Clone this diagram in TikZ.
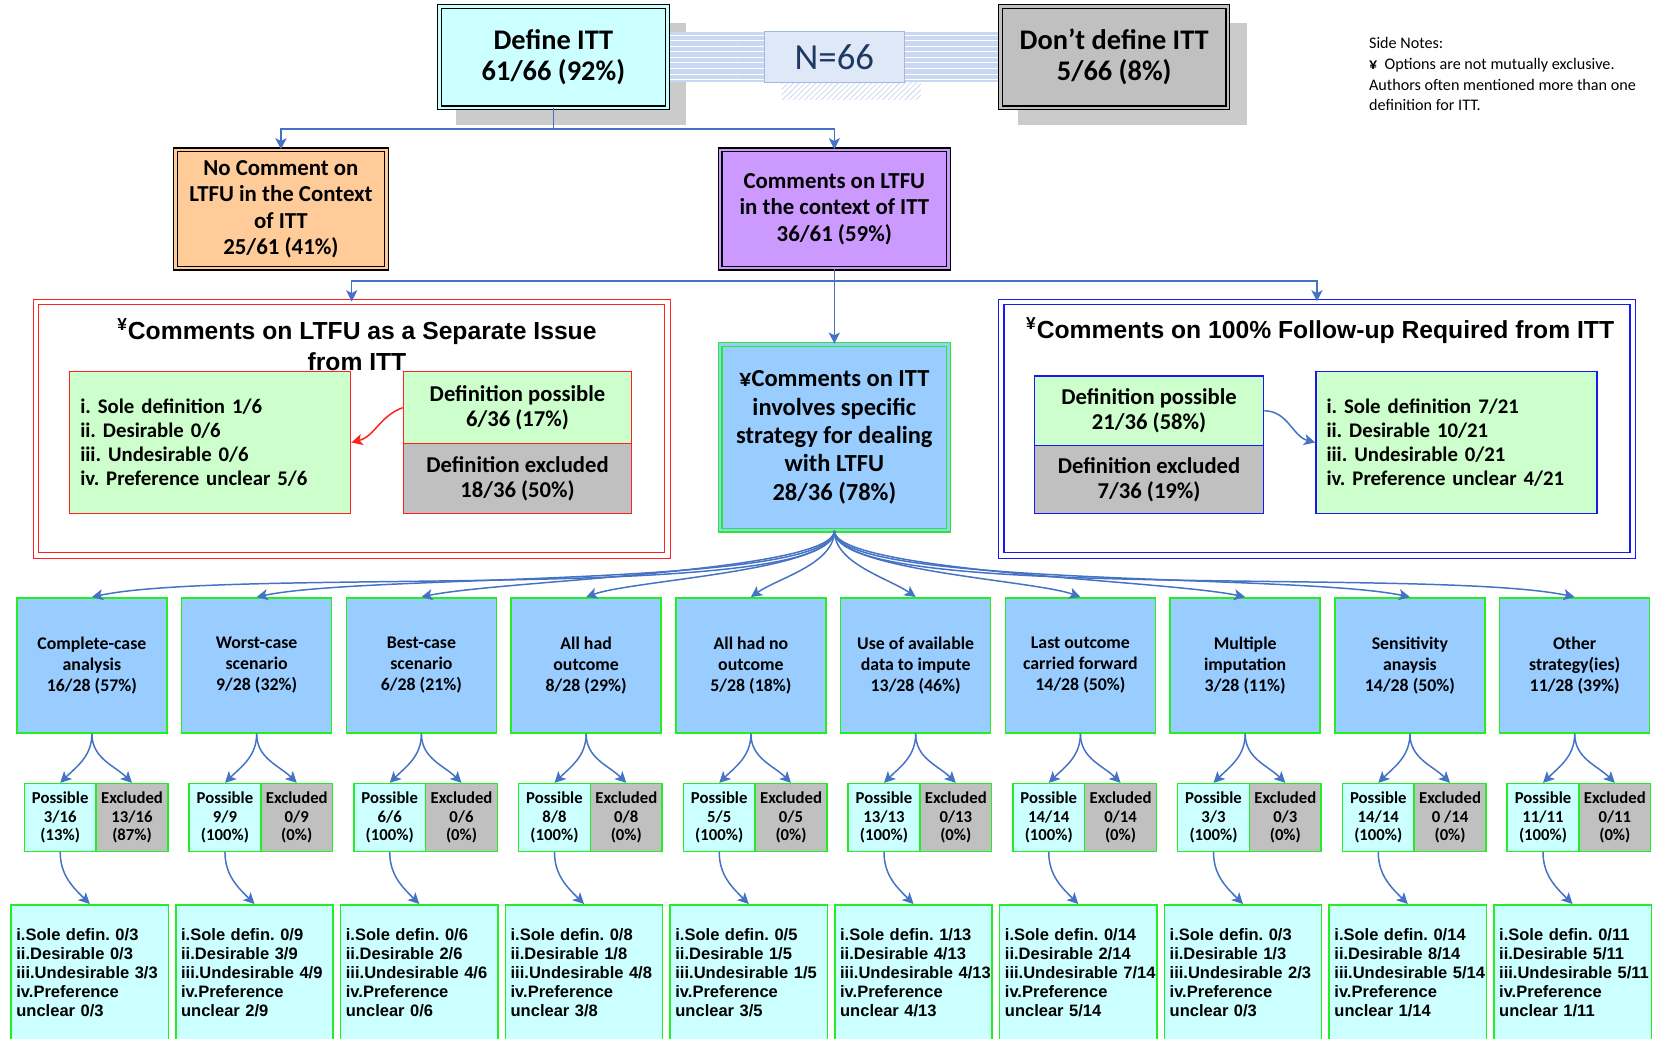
\documentclass[tikz,border=0pt]{standalone}
\usepackage{fontspec}
\setmainfont{Carlito}
\newfontfamily\arialfont{Liberation Sans}
\usetikzlibrary{arrows.meta,patterns}
\frenchspacing

\newlength\pxu
\setlength\pxu{0.2mm}

\definecolor{cyanfill}{HTML}{CCFFFF}
\definecolor{grayfill}{HTML}{C0C0C0}
\definecolor{orangefill}{HTML}{FFCC99}
\definecolor{purplefill}{HTML}{CC99FF}
\definecolor{greenfill}{HTML}{CCFFCC}
\definecolor{bluefill}{HTML}{99CCFF}
\definecolor{limeline}{HTML}{22EE22}
\definecolor{redline}{HTML}{FF2020}
\definecolor{blueline}{HTML}{1A1AF0}
\definecolor{arrowblue}{HTML}{4472C4}
\definecolor{shadowgray}{HTML}{CBCBCB}
\definecolor{bandblue}{HTML}{C9D7F0}
\definecolor{nfill}{HTML}{DEE8F6}
\definecolor{nline}{HTML}{9DB9E4}
\definecolor{ntext}{HTML}{203864}

\tikzset{
  box/.style={align=center, inner sep=1pt},
  topbox/.style={box, draw=black, line width=0.7pt, double distance=1.3pt,
    minimum width=216\pxu, minimum height=96\pxu,
    font=\fontsize{15.3}{17}\selectfont\bfseries},
  midbox/.style={box, draw=black, line width=0.7pt, double distance=1.3pt,
    minimum width=216\pxu, minimum height=112\pxu,
    font=\fontsize{12.3}{14.2}\selectfont\bfseries},
  nbox/.style={box, fill=nfill, draw=nline,
    minimum width=132\pxu, minimum height=48\pxu, text=ntext,
    font=\fontsize{19.8}{22}\selectfont},
  note/.style={align=left, inner sep=0pt, font=\fontsize{8.7}{11.2}\selectfont},
  frame/.style={line width=0.7pt, double=white, double distance=2.2pt,
    minimum width=598\pxu, minimum height=240\pxu},
  frametitle/.style={box, font=\arialfont\fontsize{13.3}{16.4}\selectfont\bfseries},
  defbox/.style={box, line width=0.8pt, minimum width=216\pxu, minimum height=67\pxu,
    font=\fontsize{12.2}{13.6}\selectfont\bfseries},
  listbox/.style={align=left, line width=0.8pt, fill=greenfill, text width=246\pxu,
    inner xsep=10\pxu, minimum height=134\pxu,
    font=\fontsize{11.2}{12.9}\selectfont\bfseries},
  stratbox/.style={box, draw=limeline, fill=bluefill, line width=0.8pt,
    minimum width=142\pxu, minimum height=128\pxu,
    font=\fontsize{9.6}{11.3}\selectfont\bfseries},
  possbox/.style={box, draw=limeline, fill=cyanfill, line width=0.8pt,
    minimum width=68\pxu, minimum height=64\pxu,
    font=\fontsize{9}{10.2}\selectfont\bfseries},
  exclbox/.style={possbox, fill=grayfill},
  sublist/.style={align=left, draw=limeline, fill=cyanfill, line width=0.8pt,
    anchor=north, text width=139\pxu, inner xsep=5\pxu, minimum height=128\pxu,
    font=\arialfont\fontsize{8.9}{10.2}\selectfont\bfseries},
  conn/.style={draw=arrowblue, line width=0.8pt},
  arr/.style={conn, -{Stealth[length=6pt, width=6pt, inset=1.5pt]}},
  fanl/.style={arr, out=-90, in=12, out looseness=0.25, in looseness=0.5},
  fanr/.style={arr, out=-90, in=168, out looseness=0.25, in looseness=0.5},
  downl/.style={arr, out=-90, in=45},
  downr/.style={arr, out=-90, in=135}
}

\begin{document}
\begin{tikzpicture}[x=0.2mm, y=0.2mm]
  \useasboundingbox (0,0) rectangle (1568,-983);

  % shadows and band behind the top row
  \fill[shadowgray] (432,-22) rectangle (650,-118);
  \fill[shadowgray] (964,-22) rectangle (1181,-118);
  \fill[bandblue] (632,-30) rectangle (948,-78);
  \fill[pattern=horizontal lines, pattern color=white] (632,-30) rectangle (948,-78);
  \fill[pattern=north east lines, pattern color=bandblue] (740,-78) rectangle (872,-94);

  \node[topbox, fill=cyanfill, double=cyanfill] (def) at (524,-54) {Define ITT\\61/66 (92\%)};
  \node[topbox, fill=grayfill, double=grayfill, minimum width=215\pxu] (nodef) at (1055,-54) {Don’t define ITT\\5/66 (8\%)};
  \node[nbox] (n66) at (790,-54) {N=66};

  \node[note, anchor=north west] (notes) at (1296,-35) {Side Notes:\\
    \textbf{¥}\ \ Options are not mutually exclusive.\\
    Authors often mentioned more than one\\
    definition for ITT.};

  % second level
  \node[midbox, fill=orangefill, double=orangefill, minimum width=200\pxu] (nocom) at (266,-198) {No Comment on\\LTFU in the Context\\of ITT\\25/61 (41\%)};
  \node[midbox, fill=purplefill, double=purplefill] (com) at (790,-198) {Comments on LTFU\\in the context of ITT\\36/61 (59\%)};

  \coordinate (j1) at (524,-122);
  \draw[conn] (def.south) -- (j1);
  \draw[arr] (j1) -| (nocom.north);
  \draw[arr] (j1) -| (com.north);

  % third level
  \node[frame, draw=redline] (sep) at (333,-406) {};
  \node[frametitle] (septitle) at (338,-326) {\textsuperscript{¥}Comments on LTFU as a Separate Issue\\from ITT};
  \node[listbox, draw=redline] (seplist) at (199,-419) {i. Sole definition 1/6\\ii. Desirable 0/6\\iii. Undesirable 0/6\\iv. Preference unclear 5/6};
  \node[defbox, draw=redline, fill=greenfill, minimum height=68\pxu] (sepposs) at (490,-386) {Definition possible\\6/36 (17\%)};
  \node[defbox, draw=redline, fill=grayfill, minimum height=66\pxu] (sepexcl) at (490,-453) {Definition excluded\\18/36 (50\%)};
  \draw[draw=redline, line width=0.8pt, -{Stealth[length=6pt, width=6pt, inset=1.5pt]}] (sepposs.west) to[out=200, in=15] (seplist.east);

  \node[frame, draw=blueline] (fu) at (1247,-406) {};
  \node[frametitle] (futitle) at (1250,-313) {\textsuperscript{¥}Comments on 100\% Follow-up Required from ITT};
  \node[defbox, draw=blueline, fill=greenfill, minimum width=217\pxu, minimum height=66\pxu] (fuposs) at (1088,-389) {Definition possible\\21/36 (58\%)};
  \node[defbox, draw=blueline, fill=grayfill, minimum width=217\pxu, minimum height=64\pxu] (fuexcl) at (1088,-454) {Definition excluded\\7/36 (19\%)};
  \node[listbox, draw=blueline] (fulist) at (1379,-419) {i. Sole definition 7/21\\ii. Desirable 10/21\\iii. Undesirable 0/21\\iv. Preference unclear 4/21};
  \draw[arr] (fuposs.east) to[out=0, in=165] (fulist.west);

  \node[box, draw=limeline, fill=bluefill, line width=0.7pt, double=bluefill, double distance=1.3pt,
    minimum width=216\pxu, minimum height=176\pxu, font=\fontsize{13.2}{15.3}\selectfont\bfseries]
    (itt) at (790,-414) {¥Comments on ITT\\involves specific\\strategy for dealing\\with LTFU\\28/36 (78\%)};

  \coordinate (j2) at (790,-266);
  \draw[conn] (com.south) -- (j2);
  \draw[arr] (j2) -| (sep.north);
  \draw[arr] (j2) -| (fu.north);
  \draw[arr] (j2) -- (itt.north);

  % strategies
  \node[stratbox] (s1) at (87,-630) {Complete-case\\analysis\\16/28 (57\%)};
  \node[stratbox] (s2) at (243,-630) {Worst-case\\scenario\\9/28 (32\%)};
  \node[stratbox] (s3) at (399,-630) {Best-case\\scenario\\6/28 (21\%)};
  \node[stratbox] (s4) at (555,-630) {All had\\outcome\\8/28 (29\%)};
  \node[stratbox] (s5) at (711,-630) {All had no\\outcome\\5/28 (18\%)};
  \node[stratbox] (s6) at (867,-630) {Use of available\\data to impute\\13/28 (46\%)};
  \node[stratbox] (s7) at (1023,-630) {Last outcome\\carried forward\\14/28 (50\%)};
  \node[stratbox] (s8) at (1179,-630) {Multiple\\imputation\\3/28 (11\%)};
  \node[stratbox] (s9) at (1335,-630) {Sensitivity\\anaysis\\14/28 (50\%)};
  \node[stratbox] (s10) at (1491,-630) {Other\\strategy(ies)\\11/28 (39\%)};

  \draw[fanl] (itt.south) to (s1.north);
  \draw[fanl] (itt.south) to (s2.north);
  \draw[fanl] (itt.south) to (s3.north);
  \draw[fanl, in=20, out looseness=0.4] (itt.south) to (s4.north);
  \draw[fanl, in=35, out looseness=0.8, in looseness=0.8] (itt.south) to (s5.north);
  \draw[fanr, in=145, out looseness=0.8, in looseness=0.8] (itt.south) to (s6.north);
  \draw[fanr, in=160, out looseness=0.4] (itt.south) to (s7.north);
  \draw[fanr] (itt.south) to (s8.north);
  \draw[fanr] (itt.south) to (s9.north);
  \draw[fanr] (itt.south) to (s10.north);

  % possible / excluded
  \node[possbox] (p1) at (57,-774) {Possible\\3/16\\(13\%)};
  \node[exclbox] (x1) at (125,-774) {Excluded\\13/16\\(87\%)};
  \node[possbox] (p2) at (213,-774) {Possible\\9/9\\(100\%)};
  \node[exclbox] (x2) at (281,-774) {Excluded\\0/9\\(0\%)};
  \node[possbox] (p3) at (369,-774) {Possible\\6/6\\(100\%)};
  \node[exclbox] (x3) at (437,-774) {Excluded\\0/6\\(0\%)};
  \node[possbox] (p4) at (525,-774) {Possible\\8/8\\(100\%)};
  \node[exclbox] (x4) at (593,-774) {Excluded\\0/8\\(0\%)};
  \node[possbox] (p5) at (681,-774) {Possible\\5/5\\(100\%)};
  \node[exclbox] (x5) at (749,-774) {Excluded\\0/5\\(0\%)};
  \node[possbox] (p6) at (837,-774) {Possible\\13/13\\(100\%)};
  \node[exclbox] (x6) at (905,-774) {Excluded\\0/13\\(0\%)};
  \node[possbox] (p7) at (993,-774) {Possible\\14/14\\(100\%)};
  \node[exclbox] (x7) at (1061,-774) {Excluded\\0/14\\(0\%)};
  \node[possbox] (p8) at (1149,-774) {Possible\\3/3\\(100\%)};
  \node[exclbox] (x8) at (1217,-774) {Excluded\\0/3\\(0\%)};
  \node[possbox] (p9) at (1305,-774) {Possible\\14/14\\(100\%)};
  \node[exclbox] (x9) at (1373,-774) {Excluded\\0 /14\\(0\%)};
  \node[possbox] (p10) at (1461,-774) {Possible\\11/11\\(100\%)};
  \node[exclbox] (x10) at (1529,-774) {Excluded\\0/11\\(0\%)};

  \draw[downl] (s1.south) to (p1.north);  \draw[downr] (s1.south) to (x1.north);
  \draw[downl] (s2.south) to (p2.north);  \draw[downr] (s2.south) to (x2.north);
  \draw[downl] (s3.south) to (p3.north);  \draw[downr] (s3.south) to (x3.north);
  \draw[downl] (s4.south) to (p4.north);  \draw[downr] (s4.south) to (x4.north);
  \draw[downl] (s5.south) to (p5.north);  \draw[downr] (s5.south) to (x5.north);
  \draw[downl] (s6.south) to (p6.north);  \draw[downr] (s6.south) to (x6.north);
  \draw[downl] (s7.south) to (p7.north);  \draw[downr] (s7.south) to (x7.north);
  \draw[downl] (s8.south) to (p8.north);  \draw[downr] (s8.south) to (x8.north);
  \draw[downl] (s9.south) to (p9.north);  \draw[downr] (s9.south) to (x9.north);
  \draw[downl] (s10.south) to (p10.north); \draw[downr] (s10.south) to (x10.north);

  % preference lists
  \node[sublist] (l1) at (85,-856) {i.Sole~defin.~0/3\\ii.Desirable~0/3\\iii.Undesirable~3/3\\iv.Preference\\unclear~0/3};
  \node[sublist] (l2) at (241,-856) {i.Sole~defin.~0/9\\ii.Desirable~3/9\\iii.Undesirable~4/9\\iv.Preference\\unclear~2/9};
  \node[sublist] (l3) at (397,-856) {i.Sole~defin.~0/6\\ii.Desirable~2/6\\iii.Undesirable~4/6\\iv.Preference\\unclear~0/6};
  \node[sublist] (l4) at (553,-856) {i.Sole~defin.~0/8\\ii.Desirable~1/8\\iii.Undesirable~4/8\\iv.Preference\\unclear~3/8};
  \node[sublist] (l5) at (709,-856) {i.Sole~defin.~0/5\\ii.Desirable~1/5\\iii.Undesirable~1/5\\iv.Preference\\unclear~3/5};
  \node[sublist] (l6) at (865,-856) {i.Sole~defin.~1/13\\ii.Desirable~4/13\\iii.Undesirable~4/13\\iv.Preference\\unclear~4/13};
  \node[sublist] (l7) at (1021,-856) {i.Sole~defin.~0/14\\ii.Desirable~2/14\\iii.Undesirable~7/14\\iv.Preference\\unclear~5/14};
  \node[sublist] (l8) at (1177,-856) {i.Sole~defin.~0/3\\ii.Desirable~1/3\\iii.Undesirable~2/3\\iv.Preference\\unclear~0/3};
  \node[sublist] (l9) at (1333,-856) {i.Sole~defin.~0/14\\ii.Desirable~8/14\\iii.Undesirable~5/14\\iv.Preference\\unclear~1/14};
  \node[sublist] (l10) at (1489,-856) {i.Sole~defin.~0/11\\ii.Desirable~5/11\\iii.Undesirable~5/11\\iv.Preference\\unclear~1/11};

  \draw[downr] (p1.south) to (l1.north);
  \draw[downr] (p2.south) to (l2.north);
  \draw[downr] (p3.south) to (l3.north);
  \draw[downr] (p4.south) to (l4.north);
  \draw[downr] (p5.south) to (l5.north);
  \draw[downr] (p6.south) to (l6.north);
  \draw[downr] (p7.south) to (l7.north);
  \draw[downr] (p8.south) to (l8.north);
  \draw[downr] (p9.south) to (l9.north);
  \draw[downr] (p10.south) to (l10.north);
\end{tikzpicture}
\end{document}
